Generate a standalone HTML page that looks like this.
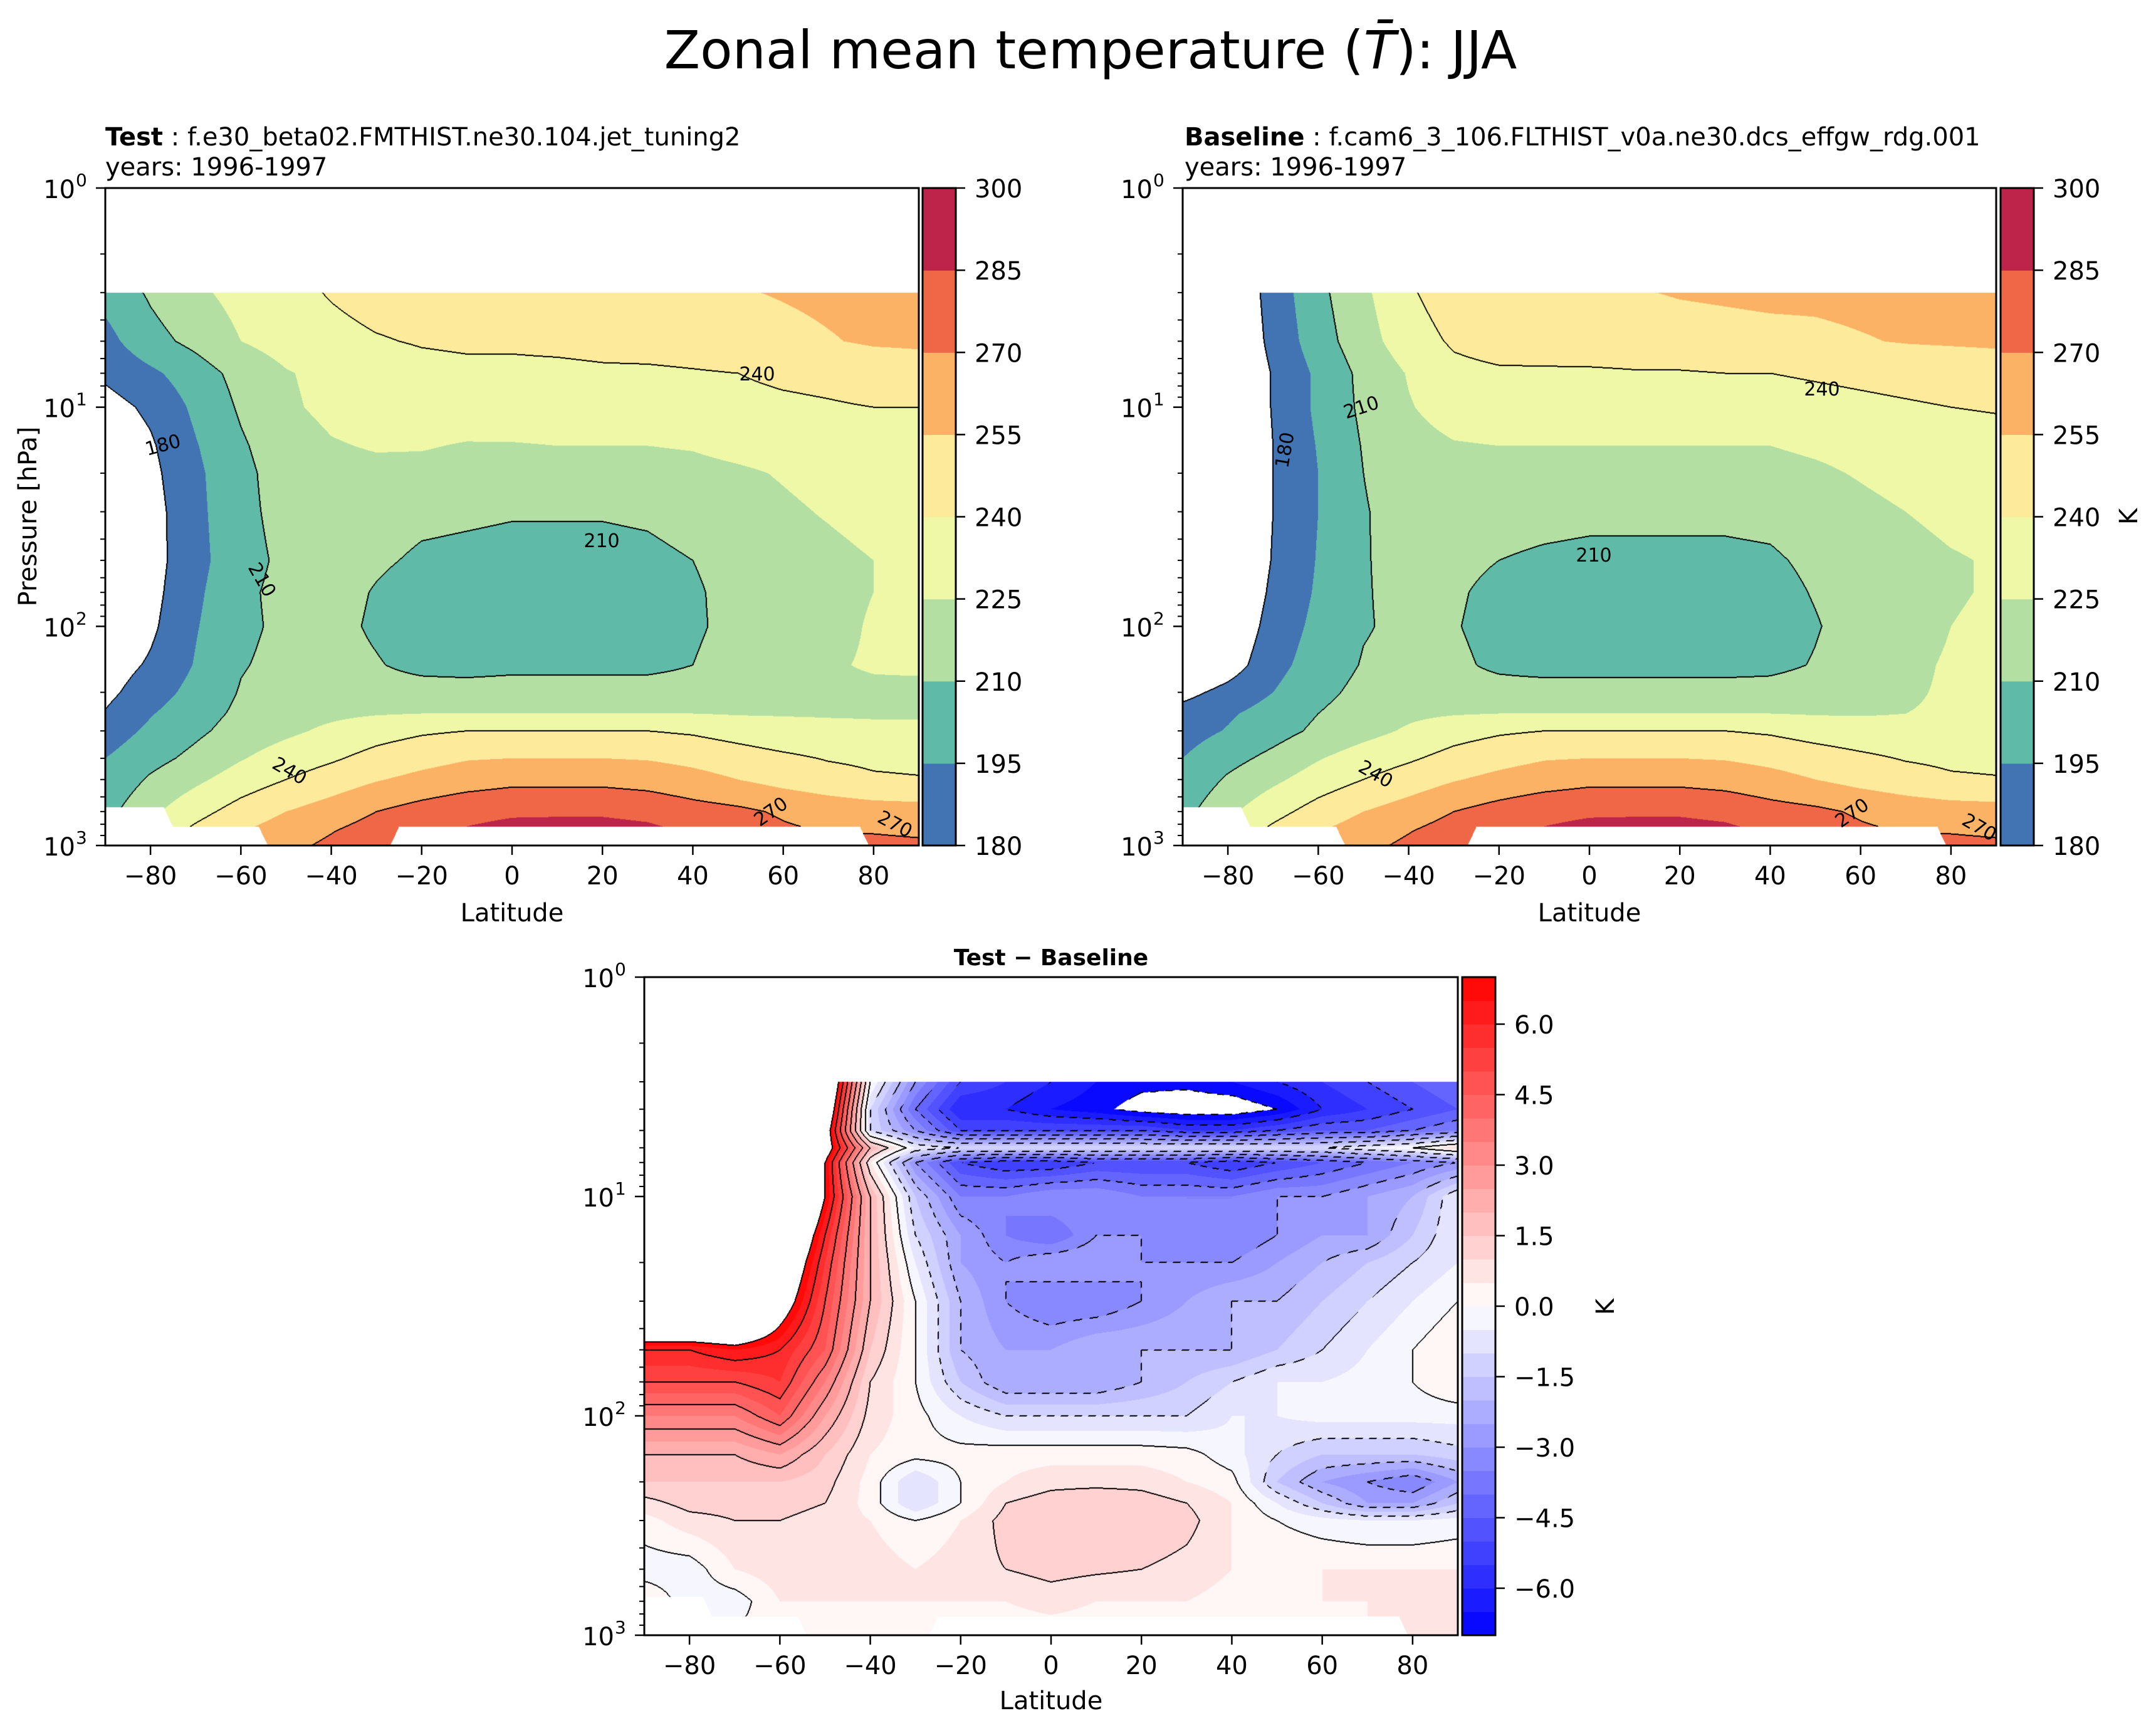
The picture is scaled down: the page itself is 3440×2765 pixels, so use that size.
<!DOCTYPE html>
<html><head><meta charset="utf-8"><style>
body{margin:0;width:3440px;height:2765px;background:#fff;position:relative;overflow:hidden;font-family:"DejaVu Sans","Liberation Sans",sans-serif}
canvas{position:absolute}
svg{position:absolute;left:0;top:0}
</style></head><body>
<canvas id="c0" style="left:168px;top:300px" width="1298" height="1049"></canvas>
<canvas id="c1" style="left:1887px;top:300px" width="1298" height="1049"></canvas>
<canvas id="c2" style="left:1028px;top:1559px" width="1298" height="1050"></canvas>
<svg id="ov" width="3440" height="2765">
<text x="1740" y="109" font-size="84" text-anchor="middle">Zonal mean temperature (<tspan font-style="italic">T̄</tspan>): JJA</text>
<text x="168" y="232" font-size="40"><tspan font-weight="bold">Test</tspan> : f.e30_beta02.FMTHIST.ne30.104.jet_tuning2</text>
<text x="168" y="280" font-size="40">years: 1996-1997</text>
<text x="1890" y="232" font-size="40"><tspan font-weight="bold">Baseline</tspan> : f.cam6_3_106.FLTHIST_v0a.ne30.dcs_effgw_rdg.001</text>
<text x="1890" y="280" font-size="40">years: 1996-1997</text>
<text x="1677" y="1540" font-size="36" font-weight="bold" text-anchor="middle">Test − Baseline</text>
<text transform="translate(58,824) rotate(-90)" font-size="40" text-anchor="middle">Pressure [hPa]</text>
<text x="817" y="1470" font-size="40" text-anchor="middle">Latitude</text>
<text x="2536" y="1470" font-size="40" text-anchor="middle">Latitude</text>
<text x="1677" y="2727" font-size="40" text-anchor="middle">Latitude</text>
<text transform="translate(3410,824) rotate(-90)" font-size="40" text-anchor="middle">K</text>
<text transform="translate(2575,2085) rotate(-90)" font-size="40" text-anchor="middle">K</text>
<g font-size="30">
<text x="1208" y="607" text-anchor="middle">240</text>
<text x="260" y="720" text-anchor="middle" transform="rotate(-15 260 710)">180</text>
<text x="960" y="873" text-anchor="middle">210</text>
<text x="418" y="935" text-anchor="middle" transform="rotate(60 418 925)">210</text>
<text x="462" y="1240" text-anchor="middle" transform="rotate(30 462 1230)">240</text>
<text x="1230" y="1305" text-anchor="middle" transform="rotate(-35 1230 1295)">270</text>
<text x="1428" y="1325" text-anchor="middle" transform="rotate(28 1428 1315)">270</text>
<text x="2907" y="631" text-anchor="middle">240</text>
<text x="2172" y="660" text-anchor="middle" transform="rotate(-18 2172 650)">210</text>
<text x="2050" y="728" text-anchor="middle" transform="rotate(-80 2050 718)">180</text>
<text x="2543" y="896" text-anchor="middle">210</text>
<text x="2195" y="1245" text-anchor="middle" transform="rotate(30 2195 1235)">240</text>
<text x="2955" y="1307" text-anchor="middle" transform="rotate(-35 2955 1297)">270</text>
<text x="3158" y="1330" text-anchor="middle" transform="rotate(30 3158 1320)">270</text>
</g>
</svg>
<script>
// ---------------- data ----------------
const lats = [-90,-80,-70,-60,-50,-40,-30,-20,-10,0,10,20,30,40,50,60,70,80,90];
const tempPressure = [3,5,7,10,15,20,30,50,70,100,150,200,250,300,400,500,700,850,1000];
const testT = [
[200,212,222,230,236,241,245,246,247,248,249,250,251,252,254,256,258,260,262],
[190,205,214,225,231,236,239,241,242,242,243,244,245,246,248,251,254,257,258],
[183,192,203,215,224,229,233,236,237,237,237,238,238,239,240,242,243,245,246],
[174,183,198,212,223,228,231,232,233,234,234,234,235,236,237,238,239,240,240],
[168,178,194,208,219,224,226,226,224,224,225,225,225,226,229,231,233,234,235],
[164,176,192,206,217,221,222,221,220,219,219,219,220,221,223,226,229,231,232],
[160,174,191,206,215,218,216,213,212,211,211,211,212,215,220,223,226,229,230],
[158,174,190,205,213,216,212,208,207,206,206,206,207,210,216,220,222,225,227],
[160,175,192,207,214,215,209,204,203,202,202,202,203,208,215,219,222,225,226],
[164,177,194,207,213,214,208,202,199,196,196,199,202,208,214,219,222,226,228],
[172,182,196,209,214,215,211,206,204,206,206,206,206,210,216,221,224,226,227],
[176,188,200,211,216,218,216,216,217,217,217,217,217,217,219,221,223,223,222],
[181,194,204,213,219,222,224,225,225,225,225,225,225,225,224,224,224,224,224],
[187,198,207,216,222,228,234,238,240,240,240,240,240,238,234,230,228,227,227],
[195,205,214,224,232,238,245,250,254,255,255,255,254,251,247,243,239,237,236],
[198,212,222,232,240,247,254,259,263,266,266,266,264,260,255,250,246,242,241],
[205,222,235,246,255,262,270,276,281,283,283,283,281,276,273,268,264,262,261],
[212,230,243,254,262,269,276,282,286,289,290,290,288,283,277,272,269,269,268],
[218,236,248,258,266,273,281,287,292,294,296,296,293,287,281,277,274,273,272]];
const baseT = [
[158,165,186,206,222,238,248,252,253,254,254,256,257,258,258,259,260,261,262],
[157,164,184,203,219,233,242,246,247,248,248,249,250,251,252,254,256,257,258],
[156,163,181,198,214,226,236,238,238,238,239,239,240,240,241,242,243,244,245],
[155,162,181,198,213,224,231,233,234,234,234,235,235,236,237,238,239,240,241],
[154,161,180,196,211,220,224,225,225,225,225,225,225,225,227,229,232,234,235],
[153,160,180,195,210,218,221,221,220,220,220,220,220,221,223,226,229,231,232],
[152,160,180,195,209,216,217,215,214,213,213,213,213,214,218,222,225,228,229],
[152,161,181,196,209,215,214,210,208,207,207,207,207,208,213,218,221,224,226],
[153,163,183,197,209,214,212,206,204,203,203,203,203,205,211,217,221,224,226],
[155,166,186,199,209,213,211,205,202,201,201,201,201,203,209,216,221,225,227],
[160,172,190,202,211,214,213,207,204,204,204,204,204,206,211,218,223,226,228],
[175,185,195,206,214,217,216,216,217,217,217,217,217,216,218,221,224,226,226],
[186,193,201,210,217,222,224,225,225,225,225,225,225,225,224,224,225,226,226],
[189,196,204,213,220,227,234,238,240,240,240,240,240,238,234,231,229,228,228],
[195,205,214,224,232,238,245,250,254,255,255,255,254,251,247,243,239,237,236],
[198,212,222,232,240,247,254,259,263,266,266,266,264,260,255,250,246,242,241],
[205,222,235,246,255,262,270,276,281,283,283,283,281,276,273,268,264,262,261],
[212,230,243,254,262,269,276,282,286,289,290,290,288,283,277,272,269,269,268],
[218,236,248,258,266,273,281,287,292,294,296,296,293,287,281,277,274,273,272]];
const diffPressure = [3,4,5,6,7,10,15,20,30,50,70,100,150,200,250,300,500,700,1000];
const diffT = [
[12,12,12,12,10,0,-3,-5,-5.5,-6,-6.5,-6.8,-6.8,-6.5,-6,-5.5,-5,-4.5,-4],
[12,12,12,12,9,-1,-4,-6,-6,-6.5,-6.8,-7.3,-7.5,-7.5,-7,-6,-5.5,-5,-4.5],
[12,12,12,12,8,-1,-3,-5,-5,-5,-5,-5,-5.5,-5.5,-5,-4.5,-4.5,-4,-3.5],
[12,12,12,12,8,2,-0.5,-1,-1,-1,-1,-1,-1,-1,-1,-1,-0.5,0,1],
[12,12,12,12,7,0.5,-3,-5,-5.5,-5.5,-5,-5,-5,-5.5,-5,-4.5,-4,-3.5,-3],
[12,12,12,12,7,2,-1.5,-3.5,-3.5,-3,-3,-3.5,-3.5,-3.5,-3,-3,-2.5,-2,-0.5],
[12,12,12,10,6,2,-1,-2.5,-3.5,-4,-3,-3,-3.5,-3.5,-3,-2.5,-2.5,-1.5,-0.5],
[12,12,12,9,5.5,2,-0.5,-2.5,-3,-2.5,-2.5,-3,-3,-3,-2.5,-2,-1.5,-1,-0.5],
[12,12,12,8,5,2,0,-2,-3,-3.5,-3.5,-3,-2.5,-2,-2,-1.5,-1,-0.5,0],
[6,6,6.5,6,4.5,1.5,0,-2,-2.5,-2.5,-2,-2,-2,-2,-1.5,-1,-0.5,0,0.5],
[5,5,5,5.5,3.5,1,0,-1.5,-2.5,-2.5,-2.5,-2,-1.5,-1,-0.5,-0.5,-0.3,0,0.5],
[3.5,3.5,3.5,4.5,2.5,0.8,0.2,-0.5,-1,-1,-1,-1,-1,-0.5,-0.5,-0.3,-0.3,-0.3,-0.3],
[2,2,2,2.5,1.5,0.5,0.2,0.2,0.3,0.3,0.3,0.3,0.2,-0.3,-1,-1.5,-1.5,-1.5,-1.2],
[1.5,1.5,1.5,1.5,1.2,0.3,-1,0,0.5,0.8,0.8,0.8,0.5,0.2,-1.5,-2.5,-3,-3.5,-2.5],
[0.8,1.2,1.2,1.2,1,0.3,-1,0,1,1.3,1.5,1.3,1,0.5,-0.5,-1.5,-2.5,-2.5,-1.5],
[0.3,0.8,1,1,0.8,0.5,0,0.5,1.2,1.5,1.5,1.5,1.2,0.5,0,-0.3,-0.5,-0.5,-0.3],
[-0.3,-0.3,0.5,0.8,0.8,0.8,0.5,0.8,1,1.2,1.1,1,0.8,0.5,0.5,0.5,0.5,0.5,0.5],
[0.5,-0.3,-0.3,0.5,0.5,0.5,0.5,0.5,0.5,0.7,0.5,0.5,0.5,0.3,0.3,0.5,0.5,0.5,0.7],
[0.5,0.2,0.1,0.2,0.3,0.3,0.3,0.2,0.2,0.2,0.2,0.2,0.2,0.1,0.2,0.3,0.5,1.0,0.5]];
const maskLat = [-90,-77,-75,-56,-54,-27,-25,77,79,90];
const maskSurfP = [670,670,820,820,1000,1000,820,820,1000,1000];
const dataTopP = 3;
const tempTickLabels = ['180','195','210','225','240','255','270','285','300'];
const diffTickLabels = ['−6.0','−4.5','−3.0','−1.5','0.0','1.5','3.0','4.5','6.0'];
const diffTickValues = [-6,-4.5,-3,-1.5,0,1.5,3,4.5,6];
const latTicks = [-80,-60,-40,-20,0,20,40,60,80];
const tempColors = ['#4273b3','#5fbaa8','#b3dfa2','#eef8a6','#feea9b','#fcb264','#f06747','#be234a'];

// -------------- helpers --------------
function interp1(xs, ys, x){
  if(x<=xs[0]) return ys[0];
  for(let i=1;i<xs.length;i++){ if(x<=xs[i]){const f=(x-xs[i-1])/(xs[i]-xs[i-1]);return ys[i-1]+f*(ys[i]-ys[i-1]);} }
  return ys[ys.length-1];
}
function bwr(v){
  let r,g,b;
  if(v<0){const t=1+v/7;r=t;g=t;b=1;} else {const t=1-v/7;r=1;g=t;b=t;}
  return [Math.round(r*255),Math.round(g*255),Math.round(b*255)];
}
function hexRgb(h){return [parseInt(h.substr(1,2),16),parseInt(h.substr(3,2),16),parseInt(h.substr(5,2),16)];}

const panels = [
 {cv:'c0', grid:testT, plev:tempPressure, x:168,y:300,w:1298,h:1049, vmin:180, step:15, n:8, lineEvery:2, kind:'T', cbx:1472},
 {cv:'c1', grid:baseT, plev:tempPressure, x:1887,y:300,w:1298,h:1049, vmin:180, step:15, n:8, lineEvery:2, kind:'T', cbx:3192},
 {cv:'c2', grid:diffT, plev:diffPressure, x:1028,y:1559,w:1298,h:1050, vmin:-7, step:0.5, n:28, lineEvery:2, kind:'D', cbx:2333}
];

function render(P){
  const c=document.getElementById(P.cv), ctx=c.getContext('2d');
  const W=P.w,H=P.h, img=ctx.createImageData(W,H), d=img.data;
  const lp=P.plev.map(Math.log10);
  const idx=new Int16Array(W*H);
  const NONE=-999;
  const cols = P.kind==='T' ? tempColors.map(hexRgb) : Array.from({length:P.n},(_,k)=>bwr(P.vmin+P.step*(k+0.5)));
  const colI=[],colF=[],sp=[];
  for(let x=0;x<W;x++){const lat=-90+180*(x+0.5)/W;let fi=(lat+90)/10;let i=Math.min(17,Math.floor(fi));colI.push(i);colF.push(fi-i);sp.push(interp1(maskLat,maskSurfP,lat));}
  for(let y=0;y<H;y++){
    const L=3*(y+0.5)/H, p=Math.pow(10,L);
    let j=0; while(j<lp.length-2 && L>lp[j+1]) j++;
    let fj=(L-lp[j])/(lp[j+1]-lp[j]); fj=Math.max(0,Math.min(1,fj));
    const r0=P.grid[j], r1=P.grid[j+1];
    for(let x=0;x<W;x++){
      const o=y*W+x;
      if(p<dataTopP || p>sp[x]){idx[o]=NONE;continue;}
      const i=colI[x],f=colF[x];
      const v=(r0[i]*(1-f)+r0[i+1]*f)*(1-fj)+(r1[i]*(1-f)+r1[i+1]*f)*fj;
      let k=Math.floor((v-P.vmin)/P.step);
      if(k<0)k=-1; if(k>=P.n)k=P.n;
      idx[o]=k;
    }
  }
  for(let y=0;y<H;y++)for(let x=0;x<W;x++){
    const o=y*W+x,k=idx[o];let rgb=[255,255,255];
    if(k>=0&&k<P.n) rgb=cols[k];
    if(k!==NONE){
      const nb=[x>0?idx[o-1]:k, y>0?idx[o-W]:k, x<W-1?idx[o+1]:k, y<H-1?idx[o+W]:k];
      for(const q of nb){
        if(q===NONE||q===k) continue;
        const lo=Math.min(q,k)+1, hi=Math.max(q,k);
        let line=false, neg=false;
        for(let m=lo;m<=hi;m++){ if(m%P.lineEvery===0){line=true; if(P.vmin+P.step*m<0) neg=true;} }
        if(line){
          if(P.kind==='D' && neg && ((x+y)%22)>=12) {} else rgb=[0,0,0];
          break;
        }
      }
    }
    d[o*4]=rgb[0];d[o*4+1]=rgb[1];d[o*4+2]=rgb[2];d[o*4+3]=255;
  }
  ctx.putImageData(img,0,0);
}
panels.forEach(render);

// -------------- axes, ticks, colorbars --------------
const ov=document.getElementById('ov'), NS='http://www.w3.org/2000/svg';
function el(tag,attrs,parent){const e=document.createElementNS(NS,tag);for(const k in attrs)e.setAttribute(k,attrs[k]);(parent||ov).appendChild(e);return e;}
panels.forEach((P,pi)=>{
  const g=el('g',{});
  
  
  const frame=el('rect',{x:P.x,y:P.y,width:P.w,height:P.h,fill:'none',stroke:'#000','stroke-width':3},g);
  
  
  latTicks.forEach(t=>{
    const x=P.x+P.w*(t+90)/180;
    el('line',{x1:x,x2:x,y1:P.y+P.h,y2:P.y+P.h+15,stroke:'#000','stroke-width':2.5},g);
    const tx=el('text',{x:x,y:P.y+P.h+62,'font-size':40,'text-anchor':'middle'},g);
    tx.textContent=t<0?'−'+(-t):String(t);
    
    
  });
  for(let dcd=0;dcd<=3;dcd++){
    const y=P.y+P.h*dcd/3;
    el('line',{x1:P.x-15,x2:P.x,y1:y,y2:y,stroke:'#000','stroke-width':2.5},g);
    const tx=el('text',{x:P.x-48,y:y+16,'font-size':40,'text-anchor':'end'},g);
    tx.textContent='10';
    
    
    const sup=el('text',{x:P.x-47,y:y-3,'font-size':28,'text-anchor':'start'},g);
    sup.textContent=String(dcd);
    if(dcd<3) for(let m=2;m<=9;m++){
      const yy=P.y+P.h*(dcd+Math.log10(m))/3;
      el('line',{x1:P.x-8,x2:P.x,y1:yy,y2:yy,stroke:'#000','stroke-width':2},g);
    }
  }
  const cb=el('g',{},g);
  
  
  const cw=53, bh=P.h/P.n;
  for(let k=0;k<P.n;k++){
    const col = P.kind==='T'?tempColors[k]:('rgb('+bwr(P.vmin+P.step*(k+0.5)).join(',')+')');
    const r=el('rect',{x:P.cbx,y:P.y+P.h-(k+1)*bh,width:cw,height:bh+0.6,fill:col},cb);
    
    
  }
  el('rect',{x:P.cbx,y:P.y,width:cw,height:P.h,fill:'none',stroke:'#000','stroke-width':3},cb);
  const vals = P.kind==='T'? tempTickLabels.map(Number): diffTickValues;
  const labs = P.kind==='T'? tempTickLabels: diffTickLabels;
  vals.forEach((v,i)=>{
    const y=P.y+P.h-(v-P.vmin)/(P.step*P.n)*P.h;
    el('line',{x1:P.cbx+cw,x2:P.cbx+cw+15,y1:y,y2:y,stroke:'#000','stroke-width':2.5},cb);
    const tx=el('text',{x:P.cbx+cw+30,y:y+15,'font-size':40},cb);
    tx.textContent=labs[i];
    
    
  });
});
</script>
</body></html>
